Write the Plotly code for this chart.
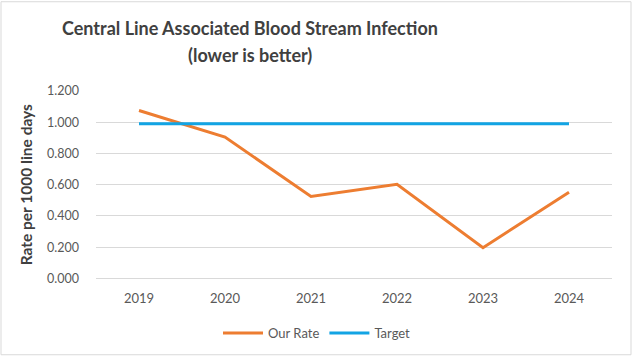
import plotly.graph_objects as go

years = ["2019", "2020", "2021", "2022", "2023", "2024"]
our_rate = [1.075, 0.905, 0.525, 0.603, 0.197, 0.552]
target = [0.99, 0.99, 0.99, 0.99, 0.99, 0.99]
title_lines = ["Central Line Associated Blood Stream Infection", "(lower is better)"]

W, H = 632, 358
ml, mr, mt, mb = 96, 20, 91, 78
pw, ph = W - ml - mr, H - mt - mb

font = "Lato"
fig = go.Figure()
fig.add_trace(go.Scatter(x=years, y=our_rate, mode="lines", name="Our Rate",
                         line=dict(color="#ED7D31", width=3)))
fig.add_trace(go.Scatter(x=years, y=target, mode="lines", name="Target",
                         line=dict(color="#12A4E4", width=3)))

annotations = []
for i, t in enumerate(title_lines):
    annotations.append(dict(text="<b>%s</b>" % t, xref="paper", yref="paper",
                            x=(250 - ml) / pw, y=(H - mb - (27 + 28 * i)) / ph,
                            xanchor="center", yanchor="middle", showarrow=False,
                            font=dict(family=font, size=18, color="#404040")))

fig.update_layout(
    width=W, height=H,
    margin=dict(l=ml, r=mr, t=mt, b=mb),
    paper_bgcolor="white", plot_bgcolor="white",
    font=dict(family=font, color="#595959", size=12),
    annotations=annotations,
    xaxis=dict(type="category", range=[-0.5, 5.5], showgrid=False,
               showline=True, linecolor="#D9D9D9", linewidth=1, ticks="",
               ticklabelstandoff=8,
               tickfont=dict(size=13, color="#595959")),
    yaxis=dict(range=[0, 1.2], dtick=0.2, tickformat=".3f",
               showgrid=True, gridcolor="#D9D9D9", gridwidth=1, zeroline=False,
               showline=False, ticks="", ticklen=0, ticklabelstandoff=16,
               title=dict(text="<b>Rate per 1000 line days</b>",
                          font=dict(size=15.5, color="#404040"), standoff=10),
               tickfont=dict(size=12.5, color="#595959")),
    legend=dict(orientation="h", x=317 / W, xanchor="center", xref="container",
                y=1 - 333 / H, yanchor="middle", yref="container",
                font=dict(size=13, color="#595959"), itemwidth=40,
                bgcolor="rgba(0,0,0,0)"),
    shapes=[dict(type="rect", xref="paper", yref="paper",
                 x0=(1 - ml) / pw, x1=(W - ml - 1) / pw,
                 y0=-(mb - 1) / ph, y1=(ph + mt - 1) / ph,
                 line=dict(color="#D9D9D9", width=1), layer="below")],
)

fig.write_html("out.html", config={"displayModeBar": False},
               post_script="document.body.style.margin='0';")
